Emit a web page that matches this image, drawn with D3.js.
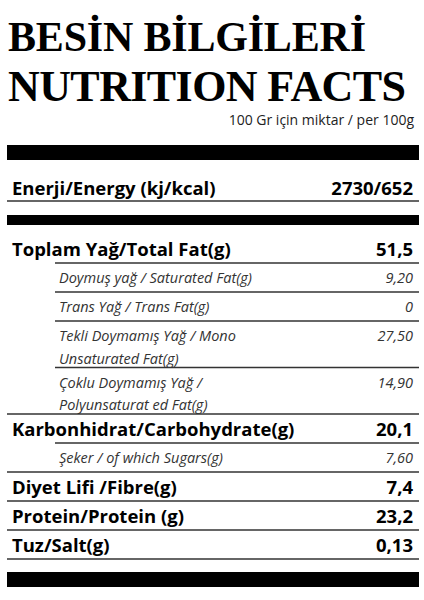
<!DOCTYPE html>
<html><head><meta charset="utf-8">
<script src="https://cdn.jsdelivr.net/npm/d3@7"></script>
<style>body{margin:0;background:#fff}</style>
</head><body>
<svg id="c" width="424" height="600"></svg>
<script>
// nutrient rows
var labels = [
  ["Toplam Yağ/Total Fat(g)"],
  ["Doymuş yağ / Saturated Fat(g)"],
  ["Trans Yağ / Trans Fat(g)"],
  ["Tekli Doymamış Yağ / Mono", "Unsaturated Fat(g)"],
  ["Çoklu Doymamış Yağ /", "Polyunsaturat ed Fat(g)"],
  ["Karbonhidrat/Carbohydrate(g)"],
  ["Şeker / of which Sugars(g)"],
  ["Diyet Lifi /Fibre(g)"],
  ["Protein/Protein (g)"],
  ["Tuz/Salt(g)"]
];
var values = ["51,5", "9,20", "0", "27,50", "14,90", "20,1", "7,60", "7,4", "23,2", "0,13"];
var sub = [false, true, true, true, true, false, true, false, false, false];

var svg = d3.select("#c");
var x = d3.scaleLinear().domain([0, 1]).range([7, 419]);

svg.append("text").attr("x", 8).attr("y", 51)
  .attr("font-family", "Liberation Serif").attr("font-weight", "bold")
  .attr("font-size", 42).attr("textLength", 358).text("BESİN BİLGİLERİ");
svg.append("text").attr("x", 8).attr("y", 101)
  .attr("font-family", "Liberation Serif").attr("font-weight", "bold")
  .attr("font-size", 44).attr("textLength", 398).text("NUTRITION FACTS");
svg.append("text").attr("x", 414).attr("y", 125).attr("text-anchor", "end")
  .attr("font-family", "Open Sans").attr("font-size", 14).attr("fill", "#222")
  .text("100 Gr için miktar / per 100g");

function bar(y, h) {
  svg.append("rect").attr("x", x(0)).attr("width", x(1) - x(0))
    .attr("y", y).attr("height", h).attr("fill", "#000");
}
function rule(x0, y) {
  svg.append("line").attr("x1", x0).attr("x2", x(1)).attr("y1", y).attr("y2", y)
    .attr("stroke", "#333").attr("stroke-width", 1.3);
}
bar(145, 15);
svg.append("text").attr("x", 12).attr("y", 195).attr("font-family", "Open Sans")
  .attr("font-weight", "bold").attr("font-size", 18.5).text("Enerji/Energy (kj/kcal)");
svg.append("text").attr("x", 413).attr("y", 195).attr("text-anchor", "end").attr("font-family", "Open Sans")
  .attr("font-weight", "bold").attr("font-size", 18.5).text("2730/652");
rule(x(0), 201);
bar(215, 10);

// row heights in px: one-line rows 29, two-line 46
var heights = labels.map(function (l) { return l.length > 1 ? 46.5 : 29; });
var tops = [263 - 29].concat(Array.from(d3.cumsum(heights)).map(function (v) { return 263 - 29 + v; }));

labels.forEach(function (l, i) {
  var bottom = tops[i + 1];
  var isSub = sub[i];
  var fs = isSub ? 14.5 : 18.5;
  var lx = isSub ? 59 : 12;
  var base0 = tops[i] + (isSub ? 20 : 22);
  l.forEach(function (line, j) {
    svg.append("text").attr("x", lx).attr("y", base0 + j * 22.5)
      .attr("font-family", "Open Sans").attr("font-size", fs)
      .attr("font-weight", isSub ? "normal" : "bold")
      .attr("font-style", isSub ? "italic" : "normal")
      .attr("fill", isSub ? "#333" : "#000").text(line);
  });
  svg.append("text").attr("x", 413).attr("y", base0).attr("text-anchor", "end")
    .attr("font-family", "Open Sans").attr("font-size", fs)
    .attr("font-weight", isSub ? "normal" : "bold")
    .attr("font-style", isSub ? "italic" : "normal")
    .attr("fill", isSub ? "#333" : "#000").text(values[i]);
  var nextSub = sub[i + 1];
  rule(nextSub ? 55 : x(0), bottom);
});
bar(572, 15);
</script>
</body></html>
